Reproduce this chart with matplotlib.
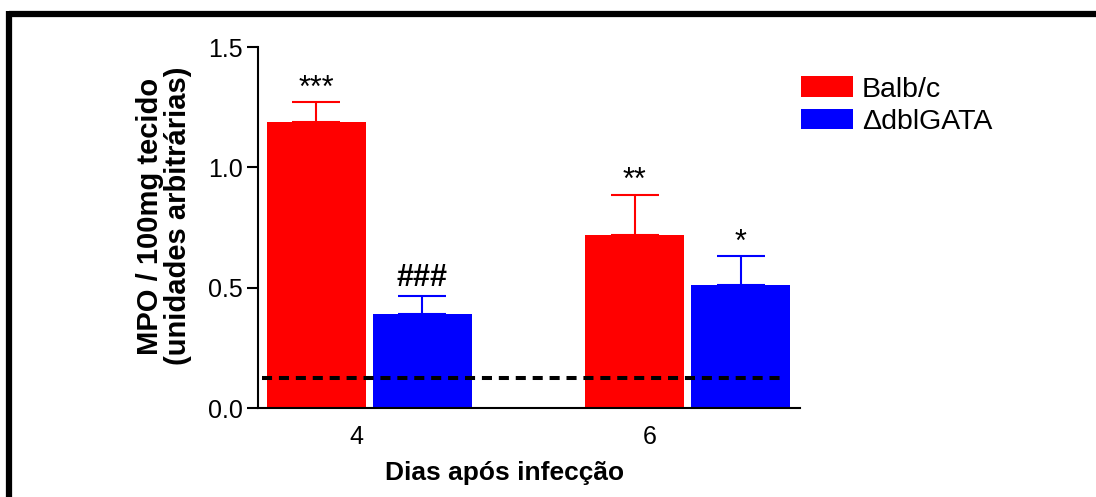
import numpy as np
import matplotlib
matplotlib.use("Agg")
import matplotlib.pyplot as plt
from matplotlib.lines import Line2D

plt.rcParams['font.family'] = ['Liberation Sans', 'DejaVu Sans']

days = ["4", "6"]
groups = ["Balb/c", "\u0394dblGATA"]
balb = [1.19, 0.72]
balb_err = [0.08, 0.165]
dbl = [0.39, 0.51]
dbl_err = [0.075, 0.12]
baseline = 0.123
balb_marks = ["***", "**"]
dbl_marks = ["###", "*"]

colors = ["#ff0000", "#0000ff"]

fig = plt.figure(figsize=(10.96, 4.97), dpi=100)
ax = fig.add_axes([0.2354, 0.179, 0.4945, 0.7264])

pos = np.arange(len(days))
w = 0.311
off = 0.1664

for vals, errs, marks, sign, col, name in [
        (balb, balb_err, balb_marks, -1, colors[0], groups[0]),
        (dbl, dbl_err, dbl_marks, 1, colors[1], groups[1])]:
    x = pos + sign * off
    ax.bar(x, vals, width=w, color=col, label=name, zorder=2)
    ax.errorbar(x, vals, yerr=[np.zeros(len(vals)), errs], fmt="none",
                ecolor=col, elinewidth=1.5, capsize=17.5, capthick=1.5, zorder=1)
    for xi, v, e, m in zip(x, vals, errs, marks):
        if m.startswith("#"):
            ax.text(xi, v + e + 0.012, m, ha="center", va="bottom",
                    fontsize=22, fontweight="bold")
        else:
            ax.text(xi, v + e - 0.005, m, ha="center", va="bottom", fontsize=22)

ax.axhline(baseline, xmin=0.007, xmax=0.974, color="black", lw=2.9,
           dashes=(2.5, 1.7), zorder=3)

ax.set_xlim(-0.35, 1.352)
ax.set_ylim(0, 1.5)
ax.set_yticks([0, 0.5, 1.0, 1.5])
ax.set_yticklabels(["0.0", "0.5", "1.0", "1.5"])
ax.set_xticks([-0.04, 0.88])
ax.set_xticklabels(days)
ax.tick_params(axis="x", length=0, labelsize=18, pad=12)
ax.tick_params(axis="y", length=8, width=1.5, labelsize=18, pad=3)

for s in ["top", "right"]:
    ax.spines[s].set_visible(False)
for s in ["left", "bottom"]:
    ax.spines[s].set_linewidth(1.5)

ax.set_xlabel("Dias após infecção", fontsize=19, fontweight="bold")
ax.xaxis.set_label_coords(0.455, -0.148)
ax.set_ylabel("MPO / 100mg tecido\n(unidades arbitrárias)", fontsize=21,
              fontweight="bold", linespacing=1.0)
ax.yaxis.set_label_coords(-0.122, 0.532)

ax.legend(loc="upper left", bbox_to_anchor=(0.98, 0.95), frameon=False,
          fontsize=20.5, handlelength=1.86, handleheight=0.75,
          handletextpad=0.3, labelspacing=0.2, borderaxespad=0)

# outer frame
fig.add_artist(Line2D([0.0082, 1.0], [0.972, 0.972], color="black", lw=4.5,
                      transform=fig.transFigure, solid_capstyle="butt"))
fig.add_artist(Line2D([0.0082, 0.0082], [0.978, 0.0], color="black", lw=4.5,
                      transform=fig.transFigure, solid_capstyle="butt"))

fig.savefig("out.png", dpi=100)
